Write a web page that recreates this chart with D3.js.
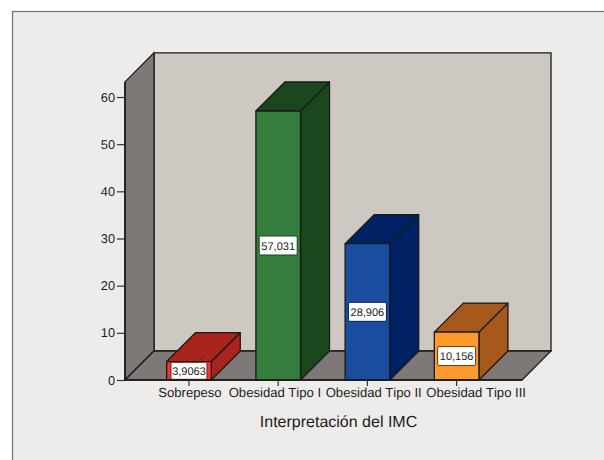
<!DOCTYPE html>
<html><head><meta charset="utf-8">
<script src="https://cdn.jsdelivr.net/npm/d3@7"></script>
<style>
html,body{margin:0;padding:0;background:#fff;overflow:hidden}
svg{display:block}
text{font-family:"Liberation Sans",Arial,sans-serif;fill:#1c1c1c;text-rendering:geometricPrecision;font-kerning:none}
</style></head><body><svg id="c" width="604" height="460"></svg>
<script>
const categories = ["Sobrepeso","Obesidad Tipo I","Obesidad Tipo II","Obesidad Tipo III"];
const values = [3.9063,57.031,28.906,10.156];
const valueLabels = ["3,9063","57,031","28,906","10,156"];
const frontColors = ["#ee3a32","#357d3c","#1a4c9f","#fd9a2c"];
const topColors = ["#a8241c","#1b471e","#002163","#a6591a"];
const sideColors = ["#a8241c","#1b471e","#002163","#a6591a"];
const yTicks = [0,10,20,30,40,50,60];
const axisTitle = "Interpretación del IMC";

const svg = d3.select("#c");
const depth = 29, left = 125, right = 522, bottom = 380;
const y = d3.scaleLinear().domain([0,60]).range([bottom,97]);
const yMax = 63.2;
const x = d3.scaleBand().domain(categories).range([left-0.7,right-0.7]).paddingInner(0.5).paddingOuter(0.475);
const line = "#1a1a1a";
const poly = pts => pts.map(p=>p.join(",")).join(" ");

svg.append("rect").attr("x",12.5).attr("y",11.5).attr("width",640).attr("height",500)
  .attr("fill","#edecea").attr("stroke","#77716d").attr("stroke-width",1.2);

// walls
svg.append("polygon").attr("points",poly([[left+depth,y(yMax)-depth],[right+depth,y(yMax)-depth],[right+depth,bottom-depth],[left+depth,bottom-depth]]))
  .attr("fill","#cdc8c2").attr("stroke",line).attr("stroke-width",1.3);
svg.append("polygon").attr("points",poly([[left,y(yMax)],[left+depth,y(yMax)-depth],[left+depth,bottom-depth],[left,bottom]]))
  .attr("fill","#7e7876").attr("stroke",line).attr("stroke-width",1.3);
svg.append("polygon").attr("points",poly([[left,bottom],[left+depth,bottom-depth],[right+depth,bottom-depth],[right,bottom]]))
  .attr("fill","#7e7876").attr("stroke",line).attr("stroke-width",1.3);

// bars
const bars = svg.selectAll("g.bar").data(categories).join("g").attr("class","bar");
bars.each(function(c,i){
  const g = d3.select(this), x0 = x(c), x1 = x0+x.bandwidth(), t = y(values[i]);
  const d = depth;
  g.append("polygon").attr("points",poly([[x1,t],[x1+d,t-d],[x1+d,bottom-d],[x1,bottom]])).attr("fill",sideColors[i]);
  g.append("polygon").attr("points",poly([[x0,t],[x0+d,t-d],[x1+d,t-d],[x1,t]])).attr("fill",topColors[i]);
  g.append("rect").attr("x",x0).attr("y",t).attr("width",x1-x0).attr("height",bottom-t).attr("fill",frontColors[i]);
  g.selectAll("polygon,rect").attr("stroke",line).attr("stroke-width",1.3).attr("stroke-linejoin","round");
  const cx = (x0+x1)/2, cy = (t+bottom)/2;
  const w = i===0?36:38, h = i===0?17:19;
  if(i===0){
    g.append("path").attr("d",`M${cx+12},${t-2}l3,-3`).attr("stroke","#3a0f0b").attr("stroke-width",1).attr("fill","none");
  }
  g.append("rect").attr("x",cx-w/2).attr("y",cy-h/2).attr("width",w).attr("height",h).attr("rx",1.5)
    .attr("fill","#fff").attr("stroke",i===0?"#7a1a14":i===1?"#1b471e":i===2?"#002163":"#6a3a14").attr("stroke-width",1);
  g.append("text").attr("x",cx).attr("y",cy+4).attr("text-anchor","middle").attr("font-size",11).text(valueLabels[i]);
});

// axes
const yAxis = d3.axisLeft(y).tickValues(yTicks).tickSize(8).tickSizeOuter(0).tickPadding(2).tickFormat(d3.format("d"));
const yg = svg.append("g").attr("transform",`translate(${left},0)`).call(yAxis);
yg.select(".domain").attr("d",`M0,${bottom}V${y(yMax)}`).attr("stroke",line).attr("stroke-width",1.6);
yg.selectAll("line").attr("stroke","#333").attr("stroke-width",1.2);
yg.selectAll("text").attr("font-size",12.8);

const xAxis = d3.axisBottom(x).tickSize(6).tickSizeOuter(0).tickPadding(2);
const xg = svg.append("g").attr("transform",`translate(0,${bottom})`).call(xAxis);
xg.select(".domain").attr("d",`M${left},0H${right}`).attr("stroke",line).attr("stroke-width",1.3);
xg.selectAll("line").attr("stroke","#333").attr("stroke-width",1.2);
// the source spreads its labels apart so that they do not collide
const labelNudge = [1,-3.3,6.3,19.5];
xg.selectAll("text").attr("font-size",13.1).attr("dx",(d,i)=>labelNudge[i]);

svg.append("text").attr("x",338.5).attr("y",427).attr("text-anchor","middle").attr("font-size",16).text(axisTitle);
</script></body></html>
